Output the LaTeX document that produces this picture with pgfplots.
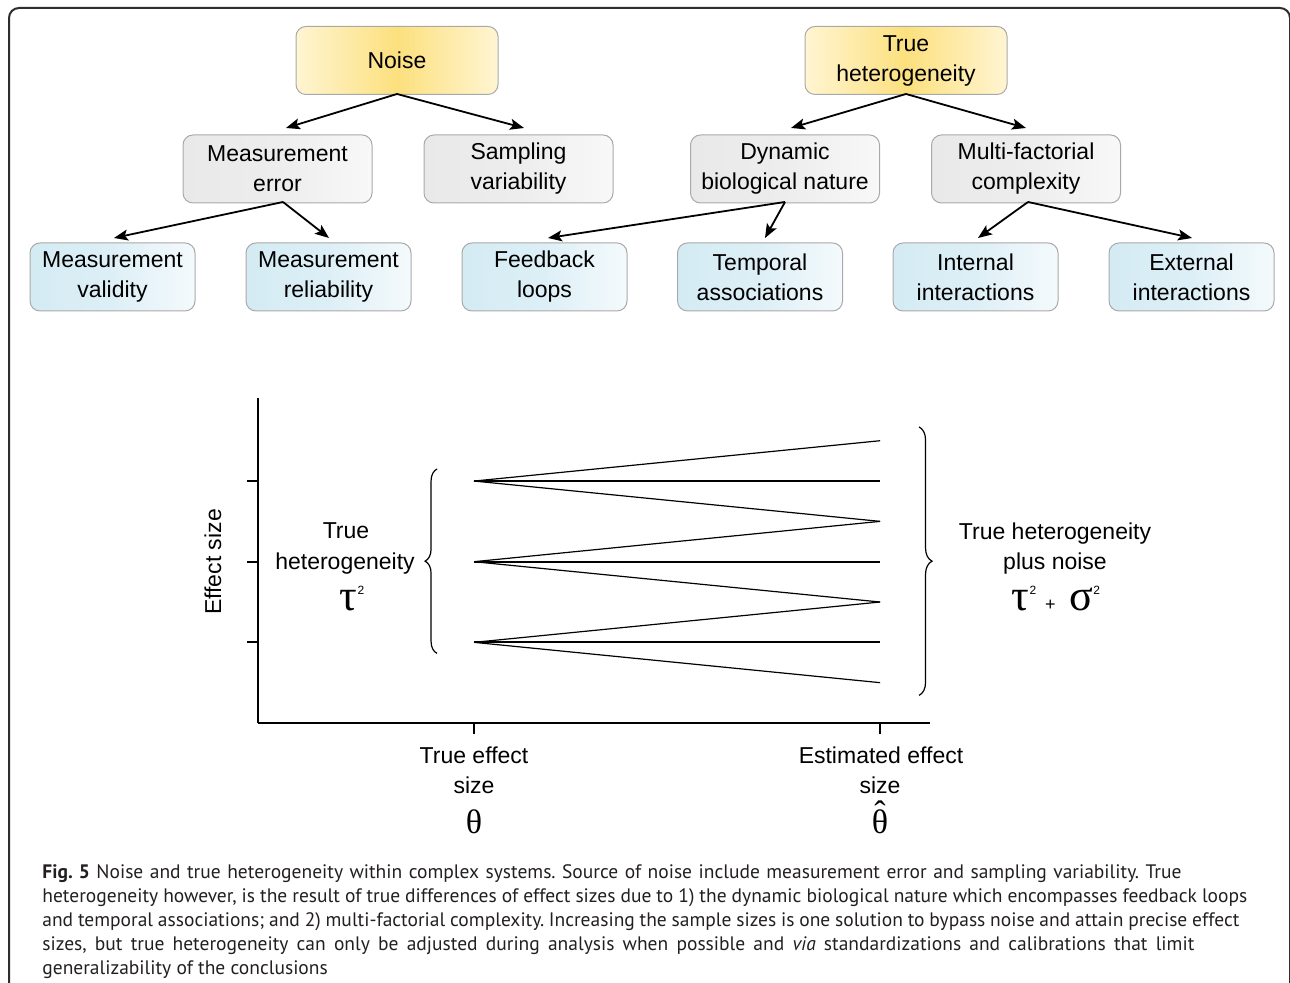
\documentclass[border=0pt]{standalone}
\usepackage{fontspec}
\usepackage{pgfplots}
\pgfplotsset{compat=1.18}
\usetikzlibrary{arrows.meta,decorations.pathreplacing,shadings}
\setmainfont{Liberation Sans}
\newfontfamily\capfont{PT Sans}
\newfontfamily\grk{Liberation Serif}
\definecolor{framec}{HTML}{2E2E2E}
\definecolor{boxb}{HTML}{A9A9A9}
\definecolor{yedge}{HTML}{FFF5D2}
\definecolor{ymid}{HTML}{FCE07E}
\definecolor{gleft}{HTML}{E9E9E9}
\definecolor{gmid}{HTML}{EDEDED}
\definecolor{gright}{HTML}{F8F8F8}
\definecolor{bleft}{HTML}{D4EBF3}
\definecolor{bmid}{HTML}{DDEFF6}
\definecolor{bright}{HTML}{F4FAFC}
\definecolor{captext}{HTML}{231F20}
\frenchspacing
\begin{document}
\begin{tikzpicture}
% plot first, in absolute units (1 px = 0.5 pt)
\begin{axis}[at={(129pt,130pt)}, anchor=south west, scale only axis,
  width=336pt, height=162.5pt,
  xmin=0.468, xmax=2.123, ymin=0, ymax=4.03,
  axis x line=bottom, axis y line=left,
  axis line style={-, line width=0.9pt, black},
  xtick={1,2}, ytick={1,2,3}, xticklabels={,,}, yticklabels={,,,},
  tick align=outside, major tick length=5.5pt,
  tick style={black, line width=0.9pt},
  clip=false]
\addplot[black, line width=0.6pt] coordinates {(1,3) (2,3.5)};
\addplot[black, line width=0.9pt] coordinates {(1,3) (2,3)};
\addplot[black, line width=0.6pt] coordinates {(1,3) (2,2.5)};
\addplot[black, line width=0.6pt] coordinates {(1,2) (2,2.5)};
\addplot[black, line width=0.9pt] coordinates {(1,2) (2,2)};
\addplot[black, line width=0.6pt] coordinates {(1,2) (2,1.5)};
\addplot[black, line width=0.6pt] coordinates {(1,1) (2,1.5)};
\addplot[black, line width=0.9pt] coordinates {(1,1) (2,1)};
\addplot[black, line width=0.6pt] coordinates {(1,1) (2,0.5)};
\draw[line width=0.6pt, decorate, decoration={brace, amplitude=6pt}] (axis cs:0.909,0.863) -- (axis cs:0.909,3.15);
\draw[line width=0.6pt, decorate, decoration={brace, amplitude=6.5pt}] (axis cs:2.096,3.671) -- (axis cs:2.096,0.342);
\end{axis}
\begin{scope}[x=0.5pt,y=0.5pt]
\useasboundingbox (0,0) rectangle (1290,983);
\begin{scope}
\clip (0,0) rectangle (1290,983);
\draw[line width=1pt, color=framec, rounded corners=5pt] (9,-27) -- (9,975) -- (1290,975) -- (1290,-27);
\end{scope}
\tikzset{
 box/.style={draw=boxb, line width=0.5pt, rounded corners=5pt, minimum height=34pt,
   align=center, font=\fontsize{11.5}{15}\selectfont, inner sep=0pt},
 ybox/.style={box, minimum width=101pt, left color=yedge, right color=yedge, middle color=ymid},
 gbox/.style={box, minimum width=94.5pt, left color=gleft, right color=gright, middle color=gmid},
 bbox/.style={box, minimum width=82.5pt, left color=bleft, right color=bright, middle color=bmid},
 arr/.style={line width=0.9pt, -{Stealth[length=7pt, width=5.5pt, inset=1.5pt]}},
 lab/.style={font=\fontsize{11.5}{15}\selectfont, inner sep=0pt, anchor=base}
}
% tree
\node[ybox] at (397,922.5) {Noise};
\node[ybox] at (906,922.5) {True\\heterogeneity};
\node[gbox] at (277.5,814) {Measurement\\error};
\node[gbox] at (518.5,814) {Sampling\\variability};
\node[gbox] at (785,814) {Dynamic\\biological nature};
\node[gbox] at (1026,814) {Multi-factorial\\complexity};
\node[bbox] at (112.5,706) {Measurement\\validity};
\node[bbox] at (328.5,706) {Measurement\\reliability};
\node[bbox] at (544.5,706) {Feedback\\loops};
\node[bbox] at (760,706) {Temporal\\associations};
\node[bbox] at (975.5,706) {Internal\\interactions};
\node[bbox] at (1191.5,706) {External\\interactions};
\draw[arr] (397,889) -- (286,855);
\draw[arr] (397,889) -- (524,855);
\draw[arr] (906,889) -- (791,855);
\draw[arr] (906,889) -- (1026,855);
\draw[arr] (283,781) -- (114,745);
\draw[arr] (283,781) -- (329,745);
\draw[arr] (785,781) -- (548,745);
\draw[arr] (785,781) -- (765,745);
\draw[arr] (1028,781) -- (978,745);
\draw[arr] (1028,781) -- (1192,745);
% plot labels
\node[font=\fontsize{11.5}{15}\selectfont, rotate=90, inner sep=0pt] at (213,421) {Effect size};
\node[lab] at (346,444) {True};
\node[lab] at (345,413) {heterogeneity};
\node[inner sep=0pt, anchor=base] at (352,372) {{\grk\fontsize{22}{22}\selectfont τ}\raisebox{8pt}{\fontsize{6}{6}\selectfont 2}};
\node[lab] at (1055,443) {True heterogeneity};
\node[lab] at (1055,413) {plus noise};
\node[inner sep=0pt, anchor=base] at (1056,372) {{\grk\fontsize{22}{22}\selectfont τ}\raisebox{8pt}{\fontsize{6}{6}\selectfont 2}\hspace{4.5pt}{\fontsize{9}{9}\selectfont +}\hspace{7pt}{\grk\fontsize{22}{22}\selectfont σ}\raisebox{8pt}{\fontsize{6}{6}\selectfont 2}};
\node[lab] at (474,219) {True effect};
\node[lab] at (474,189) {size};
\node[inner sep=0pt, anchor=base] at (474,149) {\grk\fontsize{17}{17}\selectfont θ};
\node[lab] at (881,219) {Estimated effect};
\node[lab] at (880,189) {size};
\node[inner sep=0pt, anchor=base] at (880,149) {\grk\fontsize{17}{17}\selectfont\ooalign{θ\cr\hidewidth\raisebox{0.27em}{ˆ}\hidewidth\cr}};
% caption
\tikzset{captl/.style={anchor=base west, inner sep=0pt, color=captext, font=\capfont\fontsize{9.75}{12}\selectfont}}
\node[captl] at (42,104) {\makebox[569.5pt][s]{\textbf{Fig. 5} Noise and true heterogeneity within complex systems. Source of noise include measurement error and sampling variability. True}};
\node[captl] at (42,80) {\makebox[602.5pt][s]{heterogeneity however, is the result of true differences of effect sizes due to 1) the dynamic biological nature which encompasses feedback loops}};
\node[captl] at (42,56) {\makebox[598.5pt][s]{and temporal associations; and 2) multi-factorial complexity. Increasing the sample sizes is one solution to bypass noise and attain precise effect}};
\node[captl] at (42,32) {\makebox[576pt][s]{sizes, but true heterogeneity can only be adjusted during analysis when possible and \textit{via} standardizations and calibrations that limit}};
\node[captl] at (42,8) {generalizability of the conclusions};
\end{scope}
\end{tikzpicture}
\end{document}
